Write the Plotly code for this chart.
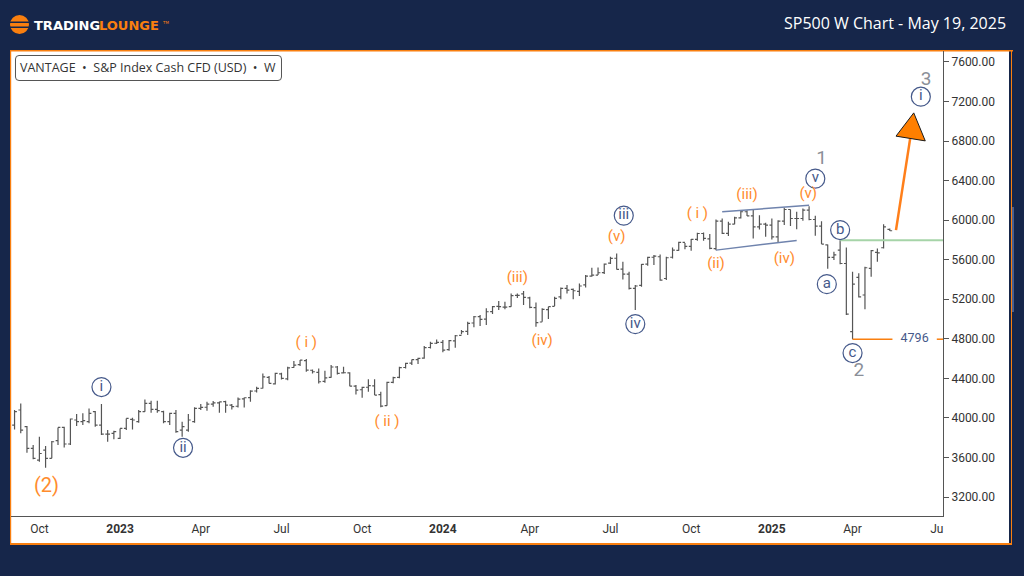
import pandas as pd
import plotly.graph_objects as go

# weekly bars, Mondays
semanas = pd.date_range("2022-09-05", periods=142, freq="W-MON")

aberturas = [3928,4080,3911,3692,3574,3675,3591,3770,3904,3736,
             3979,3962,3962,4063,3928,3837,3844,3793,3894,3985,
             3962,4063,4147,4086,4063,3962,4046,3877,3877,3962,
             4096,4108,4140,4153,4165,4130,4118,4192,4206,4272,
             4300,4410,4345,4445,4395,4510,4540,4580,4482,4460,
             4370,4410,4515,4455,4455,4322,4285,4310,4325,4235,
             4125,4360,4410,4510,4555,4590,4605,4712,4755,4765,
             4690,4780,4835,4875,4960,5025,5000,5075,5128,5120,
             5125,5240,5255,5215,5115,4970,5095,5128,5225,5310,
             5300,5280,5345,5435,5445,5470,5565,5615,5505,5455,
             5310,5340,5555,5625,5630,5410,5625,5695,5775,5735,
             5805,5865,5810,5712,5990,5866,5960,6024,6085,6044,
             5933,5960,5950,5832,5990,6108,6017,6017,6101,6007,
             5940,5750,5623,5697,5562,4872,5421,5243,5512,5674,
             5721,5907]
maximos = [4080,4147,3918,3726,3810,3716,3766,3904,3911,3995,
           4039,4046,4096,4069,4140,3877,3871,3894,3995,4002,
           4080,4187,4174,4174,4073,4053,4080,3962,4039,4107,
           4140,4163,4170,4163,4174,4140,4207,4207,4281,4315,
           4450,4423,4457,4457,4517,4575,4585,4595,4490,4500,
           4477,4534,4524,4517,4461,4333,4316,4390,4390,4265,
           4366,4417,4518,4558,4592,4609,4727,4771,4794,4788,
           4788,4838,4889,4973,5030,5040,5108,5131,5182,5175,
           5259,5259,5283,5226,5168,5108,5125,5226,5320,5344,
           5310,5360,5445,5519,5522,5563,5630,5664,5580,5478,
           5344,5556,5630,5647,5654,5630,5724,5782,5770,5810,
           5872,5876,5859,6007,6017,5983,6034,6101,6101,6108,
           6051,5973,6017,6000,6125,6108,6085,6118,6142,6044,
           5990,5754,5680,5798,5724,5478,5462,5529,5698,5714,
           5960,5917]
minimos = [3884,3844,3648,3581,3557,3497,3591,3726,3702,3726,
           3918,3928,3945,3911,3827,3759,3783,3786,3877,3884,
           3952,4063,4053,4053,3945,3928,3850,3810,3861,3952,
           4079,4072,4113,4052,4052,4086,4106,4106,4163,4258,
           4298,4349,4339,4389,4382,4507,4524,4467,4450,4349,
           4356,4406,4440,4450,4320,4238,4205,4265,4231,4107,
           4124,4350,4400,4501,4535,4545,4599,4703,4748,4663,
           4680,4710,4845,4838,4916,4929,4939,5050,5091,5098,
           5125,5212,5141,5108,4922,4973,5000,5131,5199,5259,
           5199,5232,5320,5428,5445,5455,5556,5502,5401,5300,
           5091,5327,5539,5546,5387,5394,5613,5691,5707,5690,
           5791,5791,5707,5697,5859,5839,5960,6017,6041,5815,
           5906,5832,5805,5771,5950,5940,5909,5994,6000,5842,
           5758,5508,5596,5555,5040,4796,5219,5098,5428,5580,
           5714,5890]
fechos = [4063,3877,3692,3591,3640,3591,3759,3904,3736,3989,
          3962,3972,4046,3928,3837,3837,3861,3894,3995,3979,
          4063,4147,4086,4073,3962,4046,3861,3911,3979,4096,
          4106,4140,4153,4163,4130,4115,4190,4204,4271,4298,
          4416,4349,4450,4399,4507,4534,4585,4484,4467,4366,
          4405,4515,4450,4457,4322,4282,4309,4327,4231,4120,
          4360,4407,4508,4552,4590,4602,4710,4754,4764,4686,
          4781,4831,4872,4956,5023,4997,5074,5125,5125,5120,
          5236,5240,5219,5118,4963,5098,5125,5209,5310,5293,
          5286,5334,5435,5445,5468,5556,5613,5502,5455,5310,
          5334,5553,5623,5637,5394,5620,5697,5775,5735,5805,
          5865,5815,5714,5990,5866,5960,6024,6085,6044,5933,
          5960,5950,5832,5990,6108,6017,6017,6101,6007,5940,
          5758,5623,5650,5562,5050,5354,5225,5519,5691,5670,
          5933,5893]

# wave labels
circ_txt = ["i", "ii", "iii", "iv", "v", "a", "b", "c", "i"]
circ_x = ["2022-12-12", "2023-03-14", "2024-07-23", "2024-08-05", "2025-02-24",
          "2025-03-09", "2025-03-24", "2025-04-07", "2025-06-23"]
circ_y = [4312, 3698, 6046, 4949, 6420, 5353, 5900, 4656, 7249]

lar_txt = ["( i )", "( ii )", "(iii)", "(iv)", "(v)", "( i )", "(ii)", "(iii)", "(iv)", "(v)"]
lar_x = ["2023-07-31", "2023-10-30", "2024-03-25", "2024-04-22", "2024-07-15",
         "2024-10-14", "2024-11-04", "2024-12-09", "2025-01-20", "2025-02-16"]
lar_y = [4754, 3961, 5411, 4780, 5826, 6058, 5553, 6253, 5604, 6265]

cinza_txt = ["1", "2", "3"]
cinza_x = ["2025-03-03", "2025-04-14", "2025-06-29"]
cinza_y = [6614, 4474, 7416]

# channel, levels and target arrow
canal_sup_x = ["2024-11-11", "2025-02-17"]
canal_sup_y = [6084, 6152]
canal_inf_x = ["2024-11-04", "2025-02-03"]
canal_inf_y = [5697, 5795]
verde_x = ["2025-03-24", "2025-07-18"]
verde_y = [5798, 5798]
nivel = 4796
nivel_a_x = ["2025-04-07", "2025-05-22"]
nivel_b_x = ["2025-07-11", "2025-07-18"]
seta_x = ["2025-05-26", "2025-06-11"]
seta_y = [5899, 6827]
ponta_x = ["2025-06-15", "2025-05-26", "2025-06-28", "2025-06-15"]
ponta_y = [7085, 6850, 6802, 7085]

# axes
preco_ticks = [3200, 3600, 4000, 4400, 4800, 5200, 5600, 6000, 6400, 6800, 7200, 7600]
data_ticks = ["2022-10-03", "2023-01-02", "2023-04-03", "2023-07-03", "2023-10-02", "2024-01-01",
              "2024-04-08", "2024-07-08", "2024-10-07", "2025-01-06", "2025-04-07", "2025-07-11"]
data_nomes = ["Oct", "<b>2023</b>", "Apr", "Jul", "Oct", "<b>2024</b>",
              "Apr", "Jul", "Oct", "<b>2025</b>", "Apr", "Ju"]

NAVY = "#16264a"
LARANJA = "#f97f0f"
AZUL = "#45598a"
L, T, PW, PH = 11, 51, 932, 465


# pixel to paper helpers
def px(x):
    return (x - L) / PW


def py(y):
    return (T + PH - y) / PH


def retangulo(x0, y0, x1, y1, cor, layer="below"):
    return dict(type="rect", xref="paper", yref="paper", x0=px(x0), x1=px(x1), y0=py(y0), y1=py(y1),
                fillcolor=cor, line_width=0, layer=layer)


def texto(x, y, s, size, cor, anchor="center", family="Roboto", weight="normal"):
    return dict(xref="paper", yref="paper", x=px(x), y=py(y), text=s, showarrow=False, xanchor=anchor,
                yanchor="middle", font=dict(size=size, color=cor, family=family, weight=weight))


fig = go.Figure()

fig.add_trace(go.Ohlc(x=semanas, open=aberturas, high=maximos, low=minimos, close=fechos,
                      tickwidth=0.38, line_width=1.2,
                      increasing_line_color="#555555", decreasing_line_color="#555555",
                      hoverinfo="skip"))

for xs, ys, cor, w in [(canal_sup_x, canal_sup_y, "#6f83ad", 1.5),
                       (canal_inf_x, canal_inf_y, "#6f83ad", 1.5),
                       (verde_x, verde_y, "#a6d4a8", 2),
                       (nivel_a_x, [nivel, nivel], LARANJA, 1.5),
                       (nivel_b_x, [nivel, nivel], LARANJA, 1.5),
                       (seta_x, seta_y, "#ff7f1a", 2.5)]:
    fig.add_trace(go.Scatter(x=xs, y=ys, mode="lines", line=dict(color=cor, width=w), hoverinfo="skip"))

fig.add_trace(go.Scatter(x=ponta_x, y=ponta_y, mode="lines", fill="toself", fillcolor="#ff7f00",
                         line=dict(color="#1a1a1a", width=1), hoverinfo="skip"))

fig.add_trace(go.Scatter(x=circ_x, y=circ_y, mode="markers+text", text=circ_txt, textposition="middle center",
                         marker=dict(size=19, color="rgba(255,255,255,0)", line=dict(color=AZUL, width=1.2)),
                         textfont=dict(size=15, color=AZUL, family="Roboto"), hoverinfo="skip"))
fig.add_trace(go.Scatter(x=lar_x, y=lar_y, mode="text", text=lar_txt, textposition="middle center",
                         textfont=dict(size=15, color="#ff8c2e", family="Roboto"), hoverinfo="skip"))
fig.add_trace(go.Scatter(x=["2022-10-11"], y=[3300], mode="text", text=["(2)"], textposition="middle center",
                         textfont=dict(size=20, color="#ff8c2e", family="Roboto"), hoverinfo="skip"))
fig.add_trace(go.Scatter(x=cinza_x, y=cinza_y, mode="text", text=cinza_txt, textposition="middle center",
                         textfont=dict(size=19, color="#8b8f98", family="Roboto"), hoverinfo="skip"))
fig.add_trace(go.Scatter(x=["2025-06-16"], y=[nivel], mode="text", text=[str(nivel)], textposition="middle center",
                         textfont=dict(size=12.5, color=AZUL, family="Roboto"), hoverinfo="skip"))

# panel and border
formas = [
    retangulo(10, 50, 1009, 544, "#ffffff"),
    retangulo(10, 50, 1013, 51.5, LARANJA),
    retangulo(10, 50, 11.2, 545, LARANJA),
    retangulo(10, 543, 1012, 545, LARANJA),
    retangulo(1011, 50, 1012, 545, LARANJA),
    retangulo(1012, 207, 1014, 312, "#4a5f8f"),
    # logo
    dict(type="circle", xref="paper", yref="paper", x0=px(10), x1=px(29), y0=py(15), y1=py(34),
         fillcolor=LARANJA, line_width=0, layer="below"),
    retangulo(10, 21.5, 29, 23, NAVY),
    retangulo(10, 26.5, 29, 28, NAVY),
    # symbol box, rounded
    dict(type="path", xref="paper", yref="paper",
         path="M %f,%f L %f,%f Q %f,%f %f,%f L %f,%f Q %f,%f %f,%f L %f,%f Q %f,%f %f,%f L %f,%f Q %f,%f %f,%f Z" % (
             px(19), py(55.5), px(278), py(55.5), px(281.5), py(55.5), px(281.5), py(59),
             px(281.5), py(77), px(281.5), py(80.5), px(278), py(80.5),
             px(19), py(80.5), px(15.5), py(80.5), px(15.5), py(77),
             px(15.5), py(59), px(15.5), py(55.5), px(19), py(55.5)),
         line=dict(color="#555555", width=1), fillcolor="#ffffff", layer="above"),
]

notas = [
    texto(1008, 23, "SP500 W Chart - May 19, 2025", 16, "#ffffff", "right", "Open Sans", 500),
    texto(32, 25, "TRADING", 13, "#ffffff", "left", "DejaVu Sans", 700),
    texto(97, 25, "LOUNGE", 13, LARANJA, "left", "DejaVu Sans", 700),
    texto(160, 22, "TM", 4, LARANJA, "left", "DejaVu Sans"),
    texto(18, 68, "VANTAGE  •  S&amp;P Index Cash CFD (USD)  •  W", 12.5, "#333333", "left", "Open Sans"),
]

fig.update_layout(
    width=1024, height=576, autosize=False, showlegend=False,
    paper_bgcolor=NAVY, plot_bgcolor="#ffffff",
    margin=dict(l=L, r=1024 - L - PW, t=T, b=576 - T - PH),
    shapes=formas, annotations=notas,
    xaxis=dict(type="date", range=["2022-09-01", "2025-07-18"], rangeslider_visible=False,
               tickmode="array", tickvals=data_ticks, ticktext=data_nomes, ticklen=0, ticklabelstandoff=2,
               showgrid=False, zeroline=False, showline=True, linecolor="#555555", linewidth=1,
               tickfont=dict(size=12, color="#333333", family="Roboto")),
    yaxis=dict(side="right", range=[3008, 7711], tickmode="array", tickvals=preco_ticks,
               tickformat=".2f", ticks="outside", ticklen=5, tickcolor="#555555",
               showgrid=False, zeroline=False, showline=True, linecolor="#555555", linewidth=1,
               tickfont=dict(size=12, color="#333333", family="Roboto")),
)

# no page margin so the figure sits at the window corner
fig.write_html("out.html", config=dict(displayModeBar=False),
               post_script="document.body.style.margin='0';document.body.style.background='%s';" % NAVY)
